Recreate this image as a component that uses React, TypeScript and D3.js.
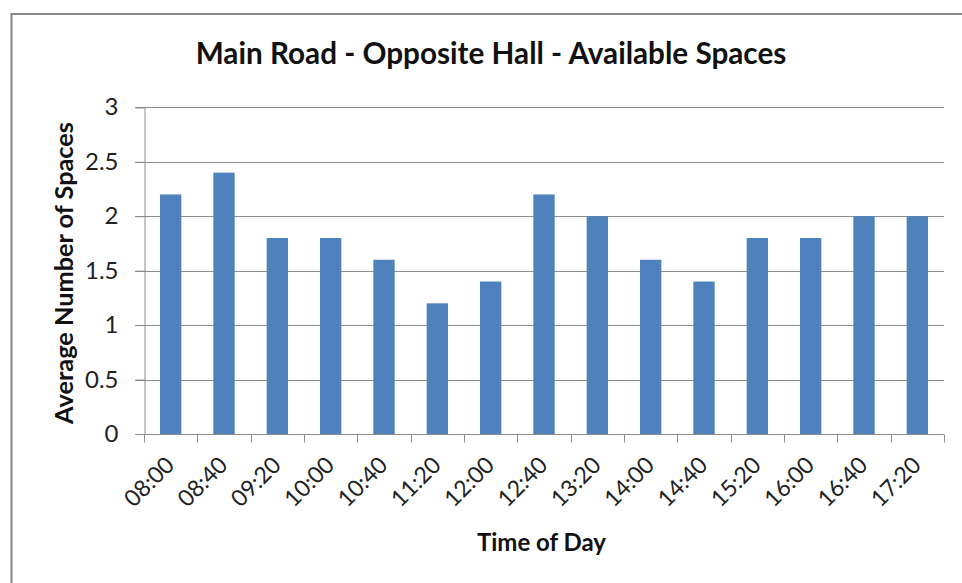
import React, { useEffect, useRef } from "react";
import * as d3 from "d3";

const categories = ["08:00","08:40","09:20","10:00","10:40","11:20","12:00","12:40","13:20","14:00","14:40","15:20","16:00","16:40","17:20"];
const values = [2.2, 2.4, 1.8, 1.8, 1.6, 1.2, 1.4, 2.2, 2.0, 1.6, 1.4, 1.8, 1.8, 2.0, 2.0];
const yTicks = [0, 0.5, 1, 1.5, 2, 2.5, 3];
const title = "Main Road - Opposite Hall - Available Spaces";
const xTitle = "Time of Day";
const yTitle = "Average Number of Spaces";

const W = 962, H = 583;
const FONT = "Lato, 'Open Sans', 'Noto Sans', sans-serif";

export default function App() {
  const ref = useRef<SVGSVGElement>(null);
  useEffect(() => {
    const svg = d3.select(ref.current);
    svg.selectAll("*").remove();
    const left = 144, right = 944, top = 107.3, bottom = 434;
    const x = d3.scaleBand().domain(categories).range([left, right]).paddingInner(0.6).paddingOuter(0.3);
    const xb = d3.scaleBand().domain(categories).range([left, right]);
    const y = d3.scaleLinear().domain([0, 3]).range([bottom, top]);

    svg.append("rect").attr("x", 0).attr("y", 0).attr("width", W).attr("height", H).attr("fill", "#fff");
    svg.append("rect").attr("x", 11.5).attr("y", 14).attr("width", W + 20).attr("height", H + 20)
      .attr("fill", "none").attr("stroke", "#868686").attr("stroke-width", 2);

    // gridlines
    svg.append("g").selectAll("line").data(yTicks.filter(t => t > 0)).join("line")
      .attr("x1", left - 9).attr("x2", right).attr("y1", d => Math.round(y(d)) + 0.5).attr("y2", d => Math.round(y(d)) + 0.5)
      .attr("stroke", "#8c8c8c").attr("stroke-width", 1);

    // bars
    svg.append("g").selectAll("rect").data(values).join("rect")
      .attr("x", (d, i) => x(categories[i])!)
      .attr("width", x.bandwidth())
      .attr("y", d => y(d))
      .attr("height", d => y(0) - y(d))
      .attr("fill", "#4F81BD");

    // y axis
    const yAxis = d3.axisLeft(y).tickValues(yTicks).tickSize(9).tickPadding(17).tickFormat(d => String(d));
    const gy = svg.append("g").attr("transform", `translate(${left + 0.5},0)`).call(yAxis);
    gy.select(".domain").attr("stroke", "#8c8c8c");
    gy.selectAll(".tick line").attr("stroke", "#8c8c8c");
    gy.selectAll(".tick text").attr("font-family", FONT).attr("font-size", 24).attr("fill", "#222");

    // x axis
    const gx = svg.append("g").attr("transform", `translate(0,${Math.round(bottom) + 0.5})`);
    gx.append("line").attr("x1", left - 9).attr("x2", right).attr("y1", 0).attr("y2", 0).attr("stroke", "#8c8c8c");
    const edges = categories.map(c => xb(c)!).concat([right]);
    gx.selectAll("line.t").data(edges).join("line").attr("class", "t")
      .attr("x1", d => Math.round(d) + 0.5).attr("x2", d => Math.round(d) + 0.5).attr("y1", 0).attr("y2", 8)
      .attr("stroke", "#8c8c8c");
    gx.selectAll("text").data(categories).join("text")
      .attr("transform", d => `translate(${xb(d)! + xb.bandwidth() / 2 + 5},${32}) rotate(-45)`)
      .attr("text-anchor", "end").attr("font-family", FONT).attr("font-size", 23).attr("fill", "#222")
      .text(d => d);

    // titles
    svg.append("text").attr("x", 491).attr("y", 64).attr("text-anchor", "middle")
      .attr("font-family", FONT).attr("font-weight", "bold").attr("font-size", 29.7).attr("fill", "#111").text(title);
    svg.append("text").attr("x", 541.5).attr("y", 551).attr("text-anchor", "middle")
      .attr("font-family", FONT).attr("font-weight", "bold").attr("font-size", 24).attr("fill", "#111").text(xTitle);
    svg.append("text").attr("transform", `translate(73,273) rotate(-90)`).attr("text-anchor", "middle")
      .attr("font-family", FONT).attr("font-weight", "bold").attr("font-size", 25.3).attr("fill", "#111").text(yTitle);
  }, []);
  return (
    <svg ref={ref} width={W} height={H} style={{ position: "absolute", left: 0, top: 0 }} />
  );
}
